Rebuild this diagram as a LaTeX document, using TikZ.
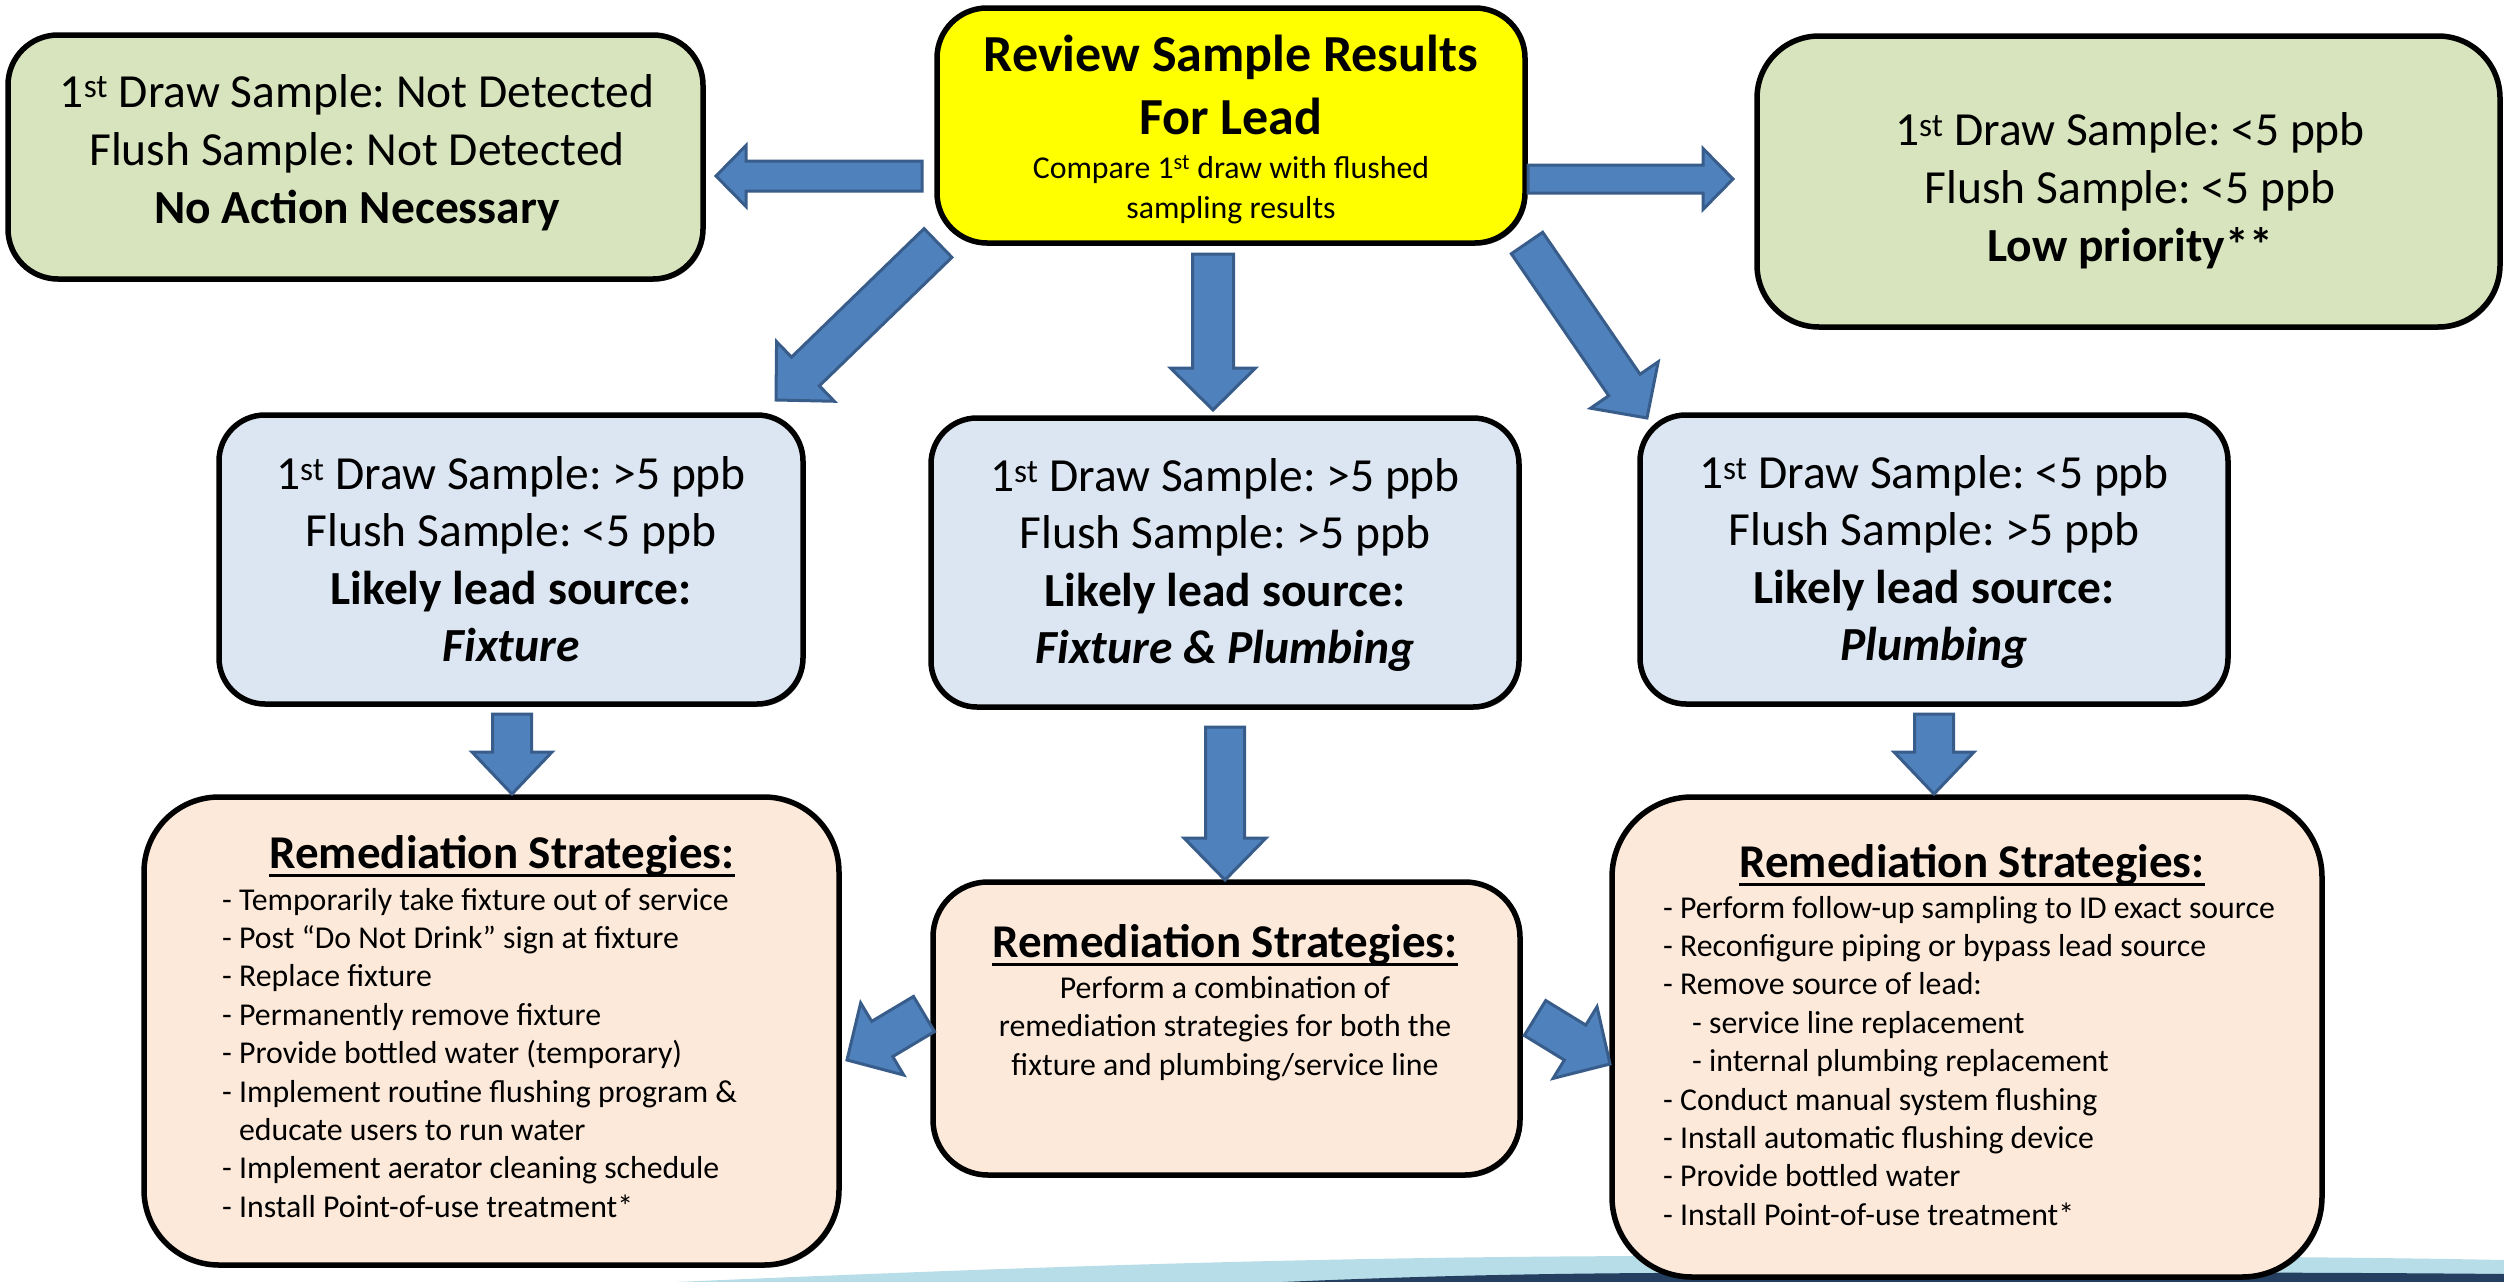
\documentclass[tikz,border=0pt]{standalone}
\usepackage{fontspec}
\setmainfont{Carlito}
\usetikzlibrary{calc,shadows}
\frenchspacing
\definecolor{boxgreen}{HTML}{D7E4BD}
\definecolor{boxyellow}{HTML}{FFFF00}
\definecolor{boxblue}{HTML}{DCE6F2}
\definecolor{boxpeach}{HTML}{FDE9D9}
\definecolor{arrfill}{HTML}{4F81BD}
\definecolor{arrline}{HTML}{385D8A}
\definecolor{wavelight}{HTML}{B7DDE8}
\definecolor{wavedark}{HTML}{243F60}
\newcommand{\blockarrow}[6]{%
  \coordinate (#1) at ($(#3)!#6!(#2)$);
  \draw[barrow] ($(#2)!#4!90:(#3)$) -- ($(#1)!#4!90:(#3)$) -- ($(#1)!#5!90:(#3)$) -- (#3)
    -- ($(#1)!#5!-90:(#3)$) -- ($(#1)!#4!-90:(#3)$) -- ($(#2)!#4!-90:(#3)$) -- cycle;}
\begin{document}
\frenchspacing
\begin{tikzpicture}[x=1pt,y=-1pt,
  frame/.style={draw=black, line width=5.5pt, rectangle, inner sep=0pt,
    drop shadow={shadow xshift=2pt, shadow yshift=-2.5pt, fill=black, opacity=0.6}},
  barrow/.style={fill=arrfill, draw=arrline, line width=3pt, line join=miter},
  txt/.style={inner sep=0pt, align=center},
  big/.style={font=\fontsize{47.5}{58}\selectfont},
  head/.style={inner sep=0pt, font=\fontsize{47}{56}\selectfont\bfseries},
  list/.style={inner sep=0pt, align=left, font=\fontsize{31.8}{38.4}\selectfont}]
\useasboundingbox (0,0) rectangle (2504,1282);
\fill[white] (0,0) rectangle (2504,1282);
% background wave
\fill[wavelight] (676,1282) .. controls (1000,1268) and (1300,1257) .. (1650,1256)
  .. controls (2000,1255) and (2300,1256) .. (2504,1260) -- (2504,1282) -- cycle;
\fill[wavedark] (1282,1282) .. controls (1400,1277) and (1500,1274) .. (1650,1273)
  .. controls (2000,1272) and (2300,1272) .. (2504,1274) -- (2504,1282) -- cycle;
% boxes
\node[frame, fill=boxgreen, rounded corners=50pt, minimum width=695pt, minimum height=244pt] (tl) at (355.5,157) {};
\node[frame, fill=boxyellow, rounded corners=50pt, minimum width=588pt, minimum height=235pt] (top) at (1231,125.5) {};
\node[frame, fill=boxgreen, rounded corners=62pt, minimum width=743pt, minimum height=291pt] (tr) at (2128.5,181.5) {};
\node[frame, fill=boxblue, rounded corners=46pt, minimum width=584pt, minimum height=289pt] (ml) at (511,559.5) {};
\node[frame, fill=boxblue, rounded corners=46pt, minimum width=588pt, minimum height=289pt] (mc) at (1225,562.5) {};
\node[frame, fill=boxblue, rounded corners=46pt, minimum width=588pt, minimum height=289pt] (mr) at (1934,559.5) {};
\node[frame, fill=boxpeach, rounded corners=75pt, minimum width=695pt, minimum height=468pt] (bl) at (491.5,1031) {};
\node[frame, fill=boxpeach, rounded corners=55pt, minimum width=587pt, minimum height=293pt] (bc) at (1226.5,1028.5) {};
\node[frame, fill=boxpeach, rounded corners=80pt, minimum width=710pt, minimum height=480pt] (br) at (1967,1037) {};
% arrows
\coordinate (a1s) at (922,176);   \coordinate (a1e) at (716,176);
\coordinate (a2s) at (1528,179);  \coordinate (a2e) at (1733,179);
\coordinate (a3s) at (938,243);   \coordinate (a3e) at (776,400);
\coordinate (a4s) at (1213,254);  \coordinate (a4e) at (1213,410);
\coordinate (a5s) at (1527,243);  \coordinate (a5e) at (1647,418);
\coordinate (a6s) at (512,714);   \coordinate (a6e) at (512,794);
\coordinate (a7s) at (1225,727);  \coordinate (a7e) at (1225,880);
\coordinate (a8s) at (1934,714);  \coordinate (a8e) at (1934,794);
\coordinate (a9s) at (924,1014);  \coordinate (a9e) at (847,1060);
\coordinate (a10s) at (1535,1018); \coordinate (a10e) at (1610,1064);
\blockarrow{a1h}{a1s}{a1e}{15pt}{30.5pt}{30pt}
\blockarrow{a2h}{a2s}{a2e}{14pt}{30.5pt}{30pt}
\blockarrow{a3h}{a3s}{a3e}{20pt}{41.5pt}{41pt}
\blockarrow{a4h}{a4s}{a4e}{20.5pt}{42.5pt}{42pt}
\blockarrow{a5h}{a5s}{a5e}{19pt}{41pt}{40pt}
\blockarrow{a6h}{a6s}{a6e}{19.5pt}{40pt}{42pt}
\blockarrow{a7h}{a7s}{a7e}{19.5pt}{41pt}{42pt}
\blockarrow{a8h}{a8s}{a8e}{19.5pt}{40pt}{42pt}
\blockarrow{a9h}{a9s}{a9e}{20.5pt}{42pt}{41pt}
\blockarrow{a10h}{a10s}{a10e}{20.5pt}{42pt}{41pt}
% texts
\node[txt, big, anchor=north] (tlt) at (357,66.2)
  {\strut 1\textsuperscript{st} Draw Sample: Not Detected\\\strut Flush Sample: Not Detected\\\strut\textbf{No Action Necessary}};
\node[txt, font=\fontsize{52}{63}\selectfont\bfseries, anchor=north] (topt) at (1231,26.9)
  {\strut Review Sample Results\\\strut For Lead};
\node[txt, font=\fontsize{31.8}{40}\selectfont, anchor=north] (tops) at (1231,150)
  {\strut Compare 1\textsuperscript{st} draw with flushed\\\strut sampling results};
\node[txt, big, anchor=north] (trt) at (2130,104.4)
  {\strut 1\textsuperscript{st} Draw Sample: <5 ppb\\\strut Flush Sample: <5 ppb\\\strut\textbf{Low priority**}};
\node[txt, font=\fontsize{47.5}{57.5}\selectfont, anchor=north] (mlt) at (511,448.75)
  {\strut 1\textsuperscript{st} Draw Sample: >5 ppb\\\strut Flush Sample: <5 ppb\\\strut\textbf{Likely lead source:}\\\strut\textbf{\textit{Fixture}}};
\node[txt, font=\fontsize{47.5}{57.5}\selectfont, anchor=north] (mct) at (1225,450.75)
  {\strut 1\textsuperscript{st} Draw Sample: >5 ppb\\\strut Flush Sample: >5 ppb\\\strut\textbf{Likely lead source:}\\\strut\textbf{\textit{Fixture \& Plumbing}}};
\node[txt, font=\fontsize{47.5}{57.5}\selectfont, anchor=north] (mrt) at (1934,447.75)
  {\strut 1\textsuperscript{st} Draw Sample: <5 ppb\\\strut Flush Sample: >5 ppb\\\strut\textbf{Likely lead source:}\\\strut\textbf{\textit{Plumbing}}};
% remediation headings
\node[head, anchor=base] (blh) at (502,868) {Remediation Strategies:};
\node[head, anchor=base] (bch) at (1225,957) {Remediation Strategies:};
\node[head, anchor=base] (brh) at (1972,877) {Remediation Strategies:};
\foreach \h in {blh,bch,brh}
  \draw[line width=3pt] ([yshift=-7pt]\h.base west) -- ([yshift=-7pt]\h.base east);
\node[list, anchor=north west] (bll) at (222,883.1)
  {\strut - Temporarily take fixture out of service\\
   \strut - Post “Do Not Drink” sign at fixture\\
   \strut - Replace fixture\\
   \strut - Permanently remove fixture\\
   \strut - Provide bottled water (temporary)\\
   \strut - Implement routine flushing program \&\\
   \strut\phantom{- }educate users to run water\\
   \strut - Implement aerator cleaning schedule\\
   \strut - Install Point-of-use treatment*};
\node[txt, font=\fontsize{31.8}{38.5}\selectfont, anchor=north] (bct) at (1225,971)
  {\strut Perform a combination of\\\strut remediation strategies for both the\\\strut fixture and plumbing/service line};
\node[list, anchor=north west] (brl) at (1663,891.1)
  {\strut - Perform follow-up sampling to ID exact source\\
   \strut - Reconfigure piping or bypass lead source\\
   \strut - Remove source of lead:\\
   \strut\hspace*{29pt}- service line replacement\\
   \strut\hspace*{29pt}- internal plumbing replacement\\
   \strut - Conduct manual system flushing\\
   \strut - Install automatic flushing device\\
   \strut - Provide bottled water\\
   \strut - Install Point-of-use treatment*};
\end{tikzpicture}
\end{document}
